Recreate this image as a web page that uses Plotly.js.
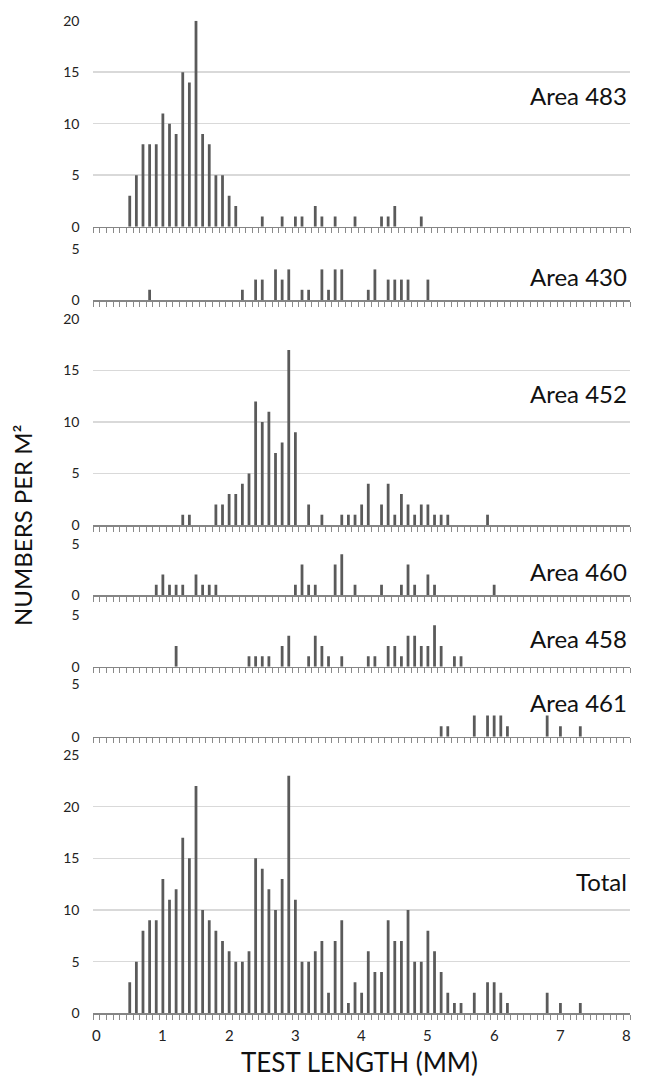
<!DOCTYPE html>
<html>
<head>
<meta charset="utf-8">
<script src="https://cdn.plot.ly/plotly-3.0.1.min.js"></script>
<style>
  html, body { margin: 0; padding: 0; background: #fff; }
  #chart { width: 655px; height: 1077px; }
</style>
</head>
<body>
<div id="chart"></div>
<script>
// Test length bins (mm), one category every 0.1 mm
const lengths = [
  0.0,0.1,0.2,0.3,0.4,0.5,0.6,0.7,0.8,0.9,
  1.0,1.1,1.2,1.3,1.4,1.5,1.6,1.7,1.8,1.9,
  2.0,2.1,2.2,2.3,2.4,2.5,2.6,2.7,2.8,2.9,
  3.0,3.1,3.2,3.3,3.4,3.5,3.6,3.7,3.8,3.9,
  4.0,4.1,4.2,4.3,4.4,4.5,4.6,4.7,4.8,4.9,
  5.0,5.1,5.2,5.3,5.4,5.5,5.6,5.7,5.8,5.9,
  6.0,6.1,6.2,6.3,6.4,6.5,6.6,6.7,6.8,6.9,
  7.0,7.1,7.2,7.3,7.4,7.5,7.6,7.7,7.8,7.9,
  8.0
];

const area483 = [
  0,0,0,0,0,3,5,8,8,8,
  11,10,9,15,14,20,9,8,5,5,
  3,2,0,0,0,1,0,0,1,0,
  1,1,0,2,1,0,1,0,0,1,
  0,0,0,1,1,2,0,0,0,1,
  0,0,0,0,0,0,0,0,0,0,
  0,0,0,0,0,0,0,0,0,0,
  0,0,0,0,0,0,0,0,0,0,
  0
];
const area430 = [
  0,0,0,0,0,0,0,0,1,0,
  0,0,0,0,0,0,0,0,0,0,
  0,0,1,0,2,2,0,3,2,3,
  0,1,1,0,3,1,3,3,0,0,
  0,1,3,0,2,2,2,2,0,0,
  2,0,0,0,0,0,0,0,0,0,
  0,0,0,0,0,0,0,0,0,0,
  0,0,0,0,0,0,0,0,0,0,
  0
];
const area452 = [
  0,0,0,0,0,0,0,0,0,0,
  0,0,0,1,1,0,0,0,2,2,
  3,3,4,5,12,10,11,7,8,17,
  9,0,2,0,1,0,0,1,1,1,
  2,4,0,2,4,1,3,2,1,2,
  2,1,1,1,0,0,0,0,0,1,
  0,0,0,0,0,0,0,0,0,0,
  0,0,0,0,0,0,0,0,0,0,
  0
];
const area460 = [
  0,0,0,0,0,0,0,0,0,1,
  2,1,1,1,0,2,1,1,1,0,
  0,0,0,0,0,0,0,0,0,0,
  1,3,1,1,0,0,3,4,0,1,
  0,0,0,1,0,0,1,3,1,0,
  2,1,0,0,0,0,0,0,0,0,
  1,0,0,0,0,0,0,0,0,0,
  0,0,0,0,0,0,0,0,0,0,
  0
];
const area458 = [
  0,0,0,0,0,0,0,0,0,0,
  0,0,2,0,0,0,0,0,0,0,
  0,0,0,1,1,1,1,0,2,3,
  0,0,1,3,2,1,0,1,0,0,
  0,1,1,0,2,2,1,3,3,2,
  2,4,2,0,1,1,0,0,0,0,
  0,0,0,0,0,0,0,0,0,0,
  0,0,0,0,0,0,0,0,0,0,
  0
];
const area461 = [
  0,0,0,0,0,0,0,0,0,0,
  0,0,0,0,0,0,0,0,0,0,
  0,0,0,0,0,0,0,0,0,0,
  0,0,0,0,0,0,0,0,0,0,
  0,0,0,0,0,0,0,0,0,0,
  0,0,1,1,0,0,0,2,0,2,
  2,2,1,0,0,0,0,0,2,0,
  1,0,0,1,0,0,0,0,0,0,
  0
];
const total = [
  0,0,0,0,0,3,5,8,9,9,
  13,11,12,17,15,22,10,9,8,7,
  6,5,5,6,15,14,12,10,13,23,
  11,5,5,6,7,2,7,9,1,3,
  2,6,4,4,9,7,7,10,5,5,
  8,6,4,2,1,1,0,2,0,3,
  3,2,1,0,0,0,0,0,2,0,
  1,0,0,1,0,0,0,0,0,0,
  0
];

const panelNames = ["Area 483","Area 430","Area 452","Area 460","Area 458","Area 461","Total"];
const panelSeries = [area483, area430, area452, area460, area458, area461, total];
const panelMax = [20, 5, 20, 5, 5, 5, 25];
const xTickLabels = ["0","1","2","3","4","5","6","7","8"];
const xTickVals = [0,1,2,3,4,5,6,7,8];

// ---- layout geometry (pixels) ----
const W = 655, H = 1077;
const plotLeft = 93.3, plotRight = 630;
const baselines = [226.7, 300, 525, 595, 666.7, 736.7, 1013.3];
const tops      = [20.7, 249, 319, 544, 615, 684, 755];
const labelY = [96, 276, 393, 571, 638, 702, 881];

const FONT = "Lato, 'Open Sans', sans-serif";
const barColor = "#5a5a5a";

const data = [];
const layout = {
  width: W, height: H,
  margin: {l: 0, r: 0, t: 0, b: 0},
  paper_bgcolor: "#ffffff",
  plot_bgcolor: "rgba(0,0,0,0)",
  showlegend: false,
  font: {family: FONT, color: "#222"},
  annotations: []
};

panelSeries.forEach((vals, i) => {
  const n = i + 1;
  const xa = n === 1 ? "x" : "x" + n;
  const ya = n === 1 ? "y" : "y" + n;
  data.push({
    type: "bar",
    x: lengths,
    y: vals,
    xaxis: xa, yaxis: ya,
    width: 0.042,
    marker: {color: barColor, line: {width: 0}},
    hoverinfo: "x+y"
  });
  const yTicks = [];
  for (let v = 0; v <= panelMax[i]; v += 5) yTicks.push(v);
  layout[n === 1 ? "xaxis" : "xaxis" + n] = {
    anchor: ya,
    domain: [plotLeft / W, plotRight / W],
    range: [-0.05, 8.05],
    showgrid: false,
    zeroline: false,
    showline: true,
    linecolor: "#858585",
    linewidth: 1.5,
    tickmode: "linear",
    tick0: -0.05,
    dtick: 0.1,
    ticks: "outside",
    ticklen: 5,
    tickwidth: 1,
    tickcolor: "#8a8a8a",
    showticklabels: false,
    fixedrange: true
  };
  layout[n === 1 ? "yaxis" : "yaxis" + n] = {
    anchor: xa,
    domain: [1 - baselines[i] / H, 1 - tops[i] / H],
    range: [0, panelMax[i]],
    tickmode: "array",
    tickvals: yTicks,
    ticktext: yTicks.map(String),
    showgrid: true,
    gridcolor: "#d9d9d9",
    gridwidth: 1.5,
    zeroline: false,
    showline: false,
    ticks: "outside",
    ticklen: 10,
    tickcolor: "rgba(0,0,0,0)",
    tickfont: {family: FONT, size: 14, color: "#222"},
    fixedrange: true
  };
  layout.annotations.push({
    text: panelNames[i],
    xref: "paper", yref: "paper",
    x: 629 / W, y: 1 - labelY[i] / H,
    xanchor: "right", yanchor: "middle",
    showarrow: false,
    font: {family: FONT, size: 24, color: "#111"}
  });
});

// x tick labels under the bottom panel
xTickVals.forEach((v, j) => {
  layout.annotations.push({
    text: xTickLabels[j],
    xref: "x7", yref: "paper",
    x: v, y: 1 - 1035 / H,
    xanchor: "center", yanchor: "middle",
    showarrow: false,
    font: {family: FONT, size: 15, color: "#222"}
  });
});

layout.annotations.push({
  text: "NUMBERS PER M²",
  xref: "paper", yref: "paper",
  x: 22 / W, y: 1 - 525 / H,
  xanchor: "center", yanchor: "middle",
  textangle: -90,
  showarrow: false,
  font: {family: FONT, size: 24, color: "#111"}
});
layout.annotations.push({
  text: "TEST LENGTH (MM)",
  xref: "paper", yref: "paper",
  x: 359 / W, y: 1 - 1062 / H,
  xanchor: "center", yanchor: "middle",
  showarrow: false,
  font: {family: FONT, size: 26, color: "#111"}
});

Plotly.newPlot("chart", data, layout, {staticPlot: true, displayModeBar: false});
</script>
</body>
</html>
